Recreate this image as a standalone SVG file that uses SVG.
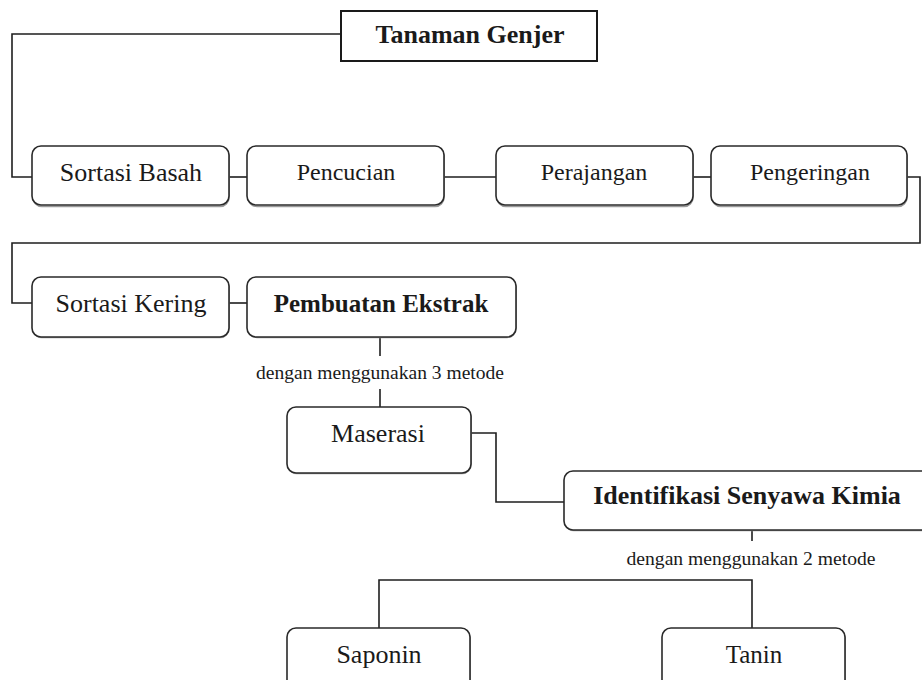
<svg xmlns="http://www.w3.org/2000/svg" width="922" height="680" viewBox="0 0 922 680">
  <style>
    .bg { fill: #ffffff; }
    .box { fill: #ffffff; stroke: #2a2a2a; stroke-width: 1.6; }
    .shadow { fill: none; stroke: #9a9a9a; stroke-width: 1.6; }
    .plain { fill: #ffffff; stroke: #1a1a1a; stroke-width: 2; }
    .conn { fill: none; stroke: #1e1e1e; stroke-width: 1.6; }
    .t { font-family: "Liberation Serif", "Times New Roman", serif; fill: #1a1a1a; text-anchor: middle; }
    .b { font-weight: bold; }
    .lbl { font-family: "Liberation Serif", "Times New Roman", serif; fill: #1a1a1a; text-anchor: middle; font-size: 19px; }
  </style>
  <rect class="bg" x="0" y="0" width="922" height="680"/>

  <g id="connectors">
    <polyline class="conn" points="341,34 12,34 12,177 32,177"/>
    <line class="conn" x1="229" y1="177" x2="247" y2="177"/>
    <line class="conn" x1="444" y1="177" x2="496" y2="177"/>
    <line class="conn" x1="693" y1="177" x2="711" y2="177"/>
    <polyline class="conn" points="907,177 920,177 920,243 12,243 12,303 32,303"/>
    <line class="conn" x1="229" y1="303" x2="247" y2="303"/>
    <line class="conn" x1="380" y1="337" x2="380" y2="356"/>
    <line class="conn" x1="380" y1="389" x2="380" y2="407"/>
    <polyline class="conn" points="471,433 496,433 496,502 564,502"/>
    <line class="conn" x1="752" y1="530" x2="752" y2="541"/>
    <polyline class="conn" points="379,628 379,580 752,580 752,628"/>
  </g>

  <g id="label-3-metode">
    <text class="lbl" x="380" y="379" textLength="248" lengthAdjust="spacingAndGlyphs">dengan menggunakan 3 metode</text>
  </g>
  <g id="label-2-metode">
    <text class="lbl" x="751" y="565" textLength="249" lengthAdjust="spacingAndGlyphs">dengan menggunakan 2 metode</text>
  </g>

  <g id="tanaman-genjer">
    <rect class="plain" x="341" y="11" width="256" height="50"/>
    <text class="t b" x="470" y="43" font-size="26">Tanaman Genjer</text>
  </g>

  <g id="sortasi-basah">
    <rect class="shadow" x="33" y="147.5" width="196" height="59" rx="9"/>
    <rect class="box" x="32" y="146" width="197" height="59" rx="9"/>
    <text class="t" x="131" y="181" font-size="26">Sortasi Basah</text>
  </g>

  <g id="pencucian">
    <rect class="shadow" x="248" y="147.5" width="196" height="59" rx="9"/>
    <rect class="box" x="247" y="146" width="197" height="59" rx="9"/>
    <text class="t" x="346" y="180" font-size="24">Pencucian</text>
  </g>

  <g id="perajangan">
    <rect class="shadow" x="497" y="147.5" width="196" height="59" rx="9"/>
    <rect class="box" x="496" y="146" width="197" height="59" rx="9"/>
    <text class="t" x="594" y="180" font-size="24">Perajangan</text>
  </g>

  <g id="pengeringan">
    <rect class="shadow" x="712" y="147.5" width="195" height="59" rx="9"/>
    <rect class="box" x="711" y="146" width="196" height="59" rx="9"/>
    <text class="t" x="810" y="180" font-size="24">Pengeringan</text>
  </g>

  <g id="sortasi-kering">
    <rect class="shadow" x="33" y="278.5" width="196" height="59" rx="9"/>
    <rect class="box" x="32" y="277" width="197" height="60" rx="9"/>
    <text class="t" x="131" y="312" font-size="26">Sortasi Kering</text>
  </g>

  <g id="pembuatan-ekstrak">
    <rect class="shadow" x="248" y="278.5" width="268" height="59" rx="9"/>
    <rect class="box" x="247" y="277" width="269" height="60" rx="9"/>
    <text class="t b" x="381" y="312" font-size="25">Pembuatan Ekstrak</text>
  </g>

  <g id="maserasi">
    <rect class="shadow" x="288" y="408.5" width="183" height="65" rx="9"/>
    <rect class="box" x="287" y="407" width="184" height="66" rx="9"/>
    <text class="t" x="378" y="442" font-size="26">Maserasi</text>
  </g>

  <g id="identifikasi-senyawa-kimia">
    <rect class="shadow" x="565" y="472.5" width="372" height="58" rx="9"/>
    <rect class="box" x="564" y="471" width="372" height="59" rx="9"/>
    <text class="t b" x="747" y="504" font-size="26">Identifikasi Senyawa Kimia</text>
  </g>

  <g id="saponin">
    <rect class="shadow" x="288" y="629.5" width="182" height="70" rx="9"/>
    <rect class="box" x="287" y="628" width="183" height="70" rx="9"/>
    <text class="t" x="379" y="663" font-size="26">Saponin</text>
  </g>

  <g id="tanin">
    <rect class="shadow" x="663" y="629.5" width="182" height="70" rx="9"/>
    <rect class="box" x="662" y="628" width="183" height="70" rx="9"/>
    <text class="t" x="754" y="663" font-size="25">Tanin</text>
  </g>
</svg>
